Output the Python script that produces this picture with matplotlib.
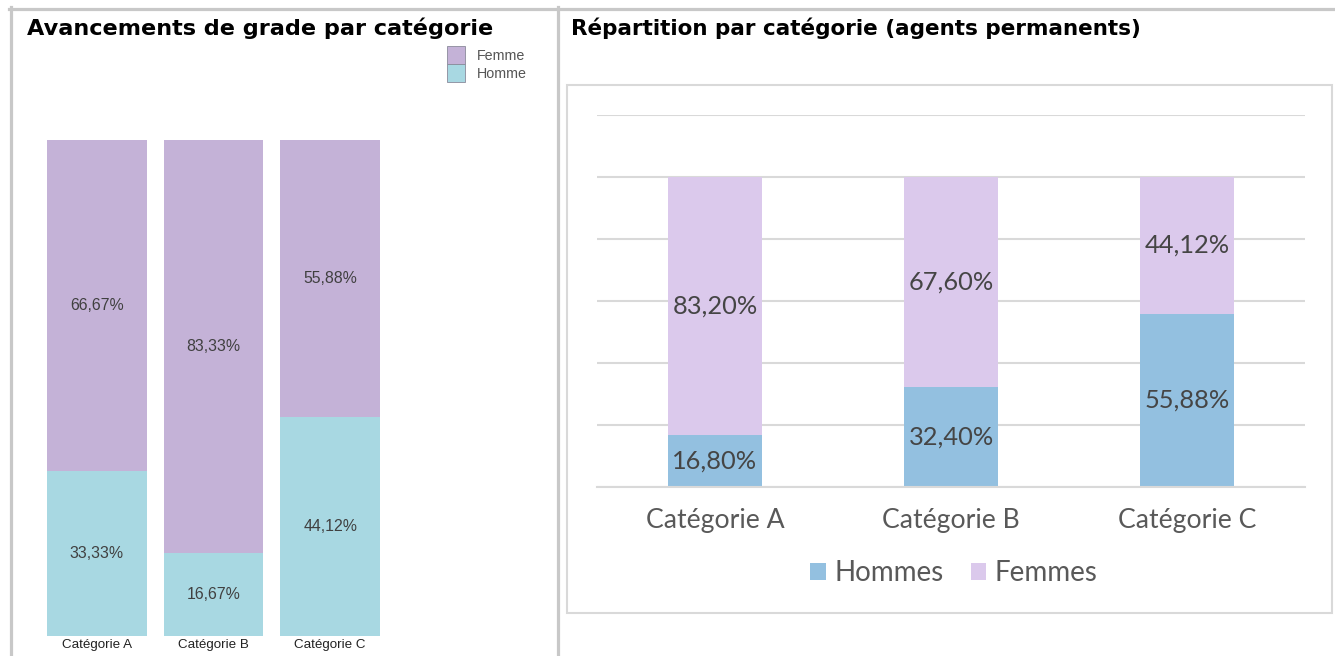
import matplotlib.pyplot as plt
from matplotlib.lines import Line2D
from matplotlib.patches import Rectangle
import numpy as np

# data
categories = ["Catégorie A", "Catégorie B", "Catégorie C"]

# left chart: avancements de grade (%)
adv_homme = [33.33, 16.67, 44.12]
adv_femme = [66.67, 83.33, 55.88]

# right chart: agents permanents (%)
perm_hommes = [16.80, 32.40, 55.88]
perm_femmes = [83.20, 67.60, 44.12]

W, H = 1335, 656


def box(l, t, r, b):
    # pixel box -> figure fraction
    return [l / W, 1 - b / H, (r - l) / W, (b - t) / H]


def fmt(v):
    return f"{v:.2f}".replace(".", ",") + "%"


fig = plt.figure(figsize=(W / 100, H / 100), dpi=100)
fig.patch.set_facecolor("white")

# outer frame
frame = "#c8c8c8"
fig.add_artist(Line2D([9 / W, 1], [1 - 8.5 / H] * 2, color=frame, lw=2.3))
fig.add_artist(Line2D([11 / W] * 2, [0, 1 - 7 / H], color=frame, lw=2.3))
fig.add_artist(Line2D([557.5 / W] * 2, [0, 1 - 7 / H], color=frame, lw=2.3))

# titles
fig.text(27 / W, 1 - 28 / H, "Avancements de grade par catégorie",
         fontsize=16.1, fontweight="bold", va="center", family="DejaVu Sans")
fig.text(571 / W, 1 - 28 / H, "Répartition par catégorie (agents permanents)",
         fontsize=15.5, fontweight="bold", va="center", family="DejaVu Sans")

# ---- left chart ----
x = np.arange(len(categories))
c_femme = "#c4b2d7"
c_homme = "#a8d8e2"
ax1 = fig.add_axes(box(38.5, 140, 388.5, 636))
b_h = ax1.bar(x, adv_homme, width=0.857, color=c_homme, label="Homme")
b_f = ax1.bar(x, adv_femme, width=0.857, bottom=adv_homme, color=c_femme, label="Femme")
for i in range(len(categories)):
    ax1.text(x[i], adv_homme[i] / 2, fmt(adv_homme[i]), ha="center", va="center",
             fontsize=11.4, color="#404040", family="Liberation Sans")
    ax1.text(x[i], adv_homme[i] + adv_femme[i] / 2, fmt(adv_femme[i]), ha="center",
             va="center", fontsize=11.4, color="#404040", family="Liberation Sans")
ax1.set_xlim(-0.5, 2.5)
ax1.set_ylim(0, 100)
ax1.set_xticks(x)
ax1.set_xticklabels(categories, fontsize=9.6, family="Liberation Sans", color="#222222")
ax1.tick_params(axis="x", length=0, pad=2)
ax1.set_yticks([])
for s in ax1.spines.values():
    s.set_visible(False)

# legend squares with thin outline
lh_f = Rectangle((0, 0), 1, 1, facecolor=c_femme, edgecolor="#8a8a9a", lw=0.6)
lh_h = Rectangle((0, 0), 1, 1, facecolor=c_homme, edgecolor="#8a8a9a", lw=0.6)
fig.legend([lh_f, lh_h], ["Femme", "Homme"], loc="upper left",
           bbox_to_anchor=(447 / W, 1 - 46 / H), frameon=False,
           prop={"family": "Liberation Sans", "size": 10.3}, labelcolor="#555555",
           handlelength=1.27, handleheight=1.55, labelspacing=0.0,
           handletextpad=0.8, borderaxespad=0, borderpad=0)

# ---- right chart ----
fig.add_artist(Rectangle((567 / W, 1 - 613 / H), (1332 - 567) / W, (613 - 85) / H,
                         fill=False, edgecolor="#d9d9d9", lw=1.5))
c_hommes = "#93c0e0"
c_femmes = "#dbc9ec"
ax2 = fig.add_axes(box(597, 115, 1305, 487))
ax2.set_axisbelow(True)
r_h = ax2.bar(x, perm_hommes, width=0.398, color=c_hommes, label="Hommes")
r_f = ax2.bar(x, perm_femmes, width=0.398, bottom=perm_hommes, color=c_femmes, label="Femmes")
for i in range(len(categories)):
    ax2.text(x[i], perm_hommes[i] / 2, fmt(perm_hommes[i]), ha="center", va="center",
             fontsize=18.3, color="#454545", family="Lato")
    ax2.text(x[i], perm_hommes[i] + perm_femmes[i] / 2, fmt(perm_femmes[i]),
             ha="center", va="center", fontsize=18.3, color="#454545", family="Lato")
ax2.set_xlim(-0.5, 2.5)
ax2.set_ylim(0, 120)
ax2.set_yticks(np.arange(0, 121, 20))
ax2.set_yticklabels([])
ax2.tick_params(axis="y", length=0)
ax2.grid(axis="y", color="#d9d9d9", lw=1.5)
ax2.set_xticks(x)
ax2.set_xticklabels(categories, fontsize=19.2, family="Lato", color="#595959")
ax2.tick_params(axis="x", length=0, pad=15)
for name, s in ax2.spines.items():
    s.set_visible(name == "bottom")
ax2.spines["bottom"].set_color("#d9d9d9")
ax2.spines["bottom"].set_linewidth(1.5)

fig.legend([r_h, r_f], ["Hommes", "Femmes"], loc="center",
           bbox_to_anchor=(954 / W, 1 - 573 / H), ncol=2, frameon=False,
           prop={"family": "Lato", "size": 20}, labelcolor="#595959",
           handlelength=0.55, handleheight=0.55, handletextpad=0.3,
           columnspacing=1.0, borderpad=0, borderaxespad=0)

fig.savefig("out.png", dpi=100)
